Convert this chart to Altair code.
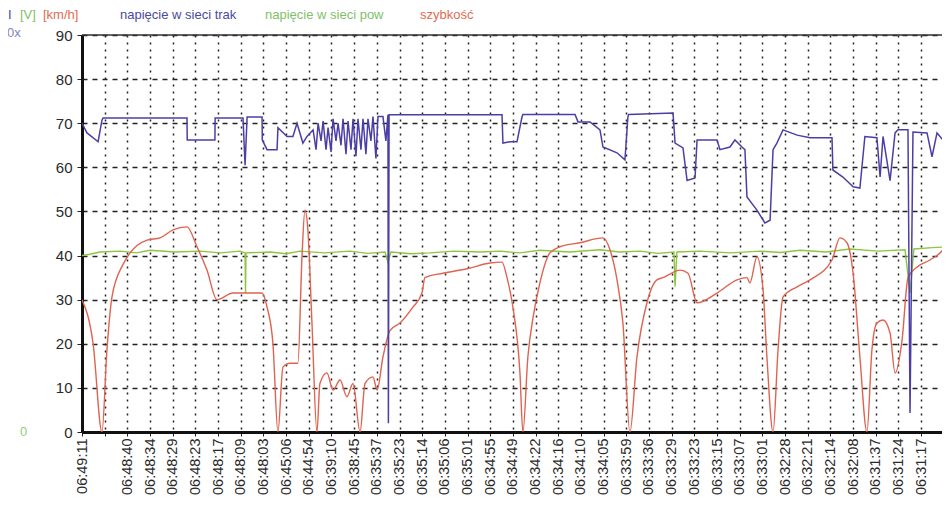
import altair as alt
import pandas as pd

# ---- data ----
time_labels = ["06:49:11", "", "06:48:40", "06:48:34", "06:48:29", "06:48:23", "06:48:17",
               "06:48:09", "06:48:03", "06:45:06", "06:44:54", "06:39:10", "06:38:45",
               "06:35:37", "06:35:23", "06:35:14", "06:35:06", "06:35:01", "06:34:55",
               "06:34:49", "06:34:22", "06:34:16", "06:34:10", "06:34:05", "06:33:59",
               "06:33:36", "06:33:29", "06:33:23", "06:33:15", "06:33:07", "06:33:01",
               "06:32:28", "06:32:21", "06:32:14", "06:32:08", "06:31:37", "06:31:24",
               "06:31:17", "06:31:11"]
y_ticks = [0, 10, 20, 30, 40, 50, 60, 70, 80, 90]

speed_x = [0.0, 0.49, 0.88, 1.10, 1.32, 1.81, 2.12, 2.87, 3.44, 4.01, 4.63, 5.07, 5.51, 5.95,
           6.66, 7.94, 8.16, 8.42, 8.64, 8.86, 9.17, 9.52, 9.70, 9.83, 9.96, 10.14, 10.36,
           10.49, 10.80, 11.07, 11.38, 11.68, 11.95, 12.26, 12.48, 12.83, 13.01, 13.27, 13.58,
           14.02, 14.59, 14.99, 15.12, 15.92, 16.98, 17.99, 18.52, 18.74, 19.00, 19.31, 19.44,
           19.66, 19.89, 20.19, 20.63, 21.08, 21.96, 22.97, 23.28, 23.59, 23.85, 24.16, 24.47,
           24.91, 25.35, 25.62, 26.37, 26.72, 27.12, 28.00, 28.88, 29.32, 29.45, 29.76, 30.03,
           30.20, 30.47, 30.69, 30.91, 31.53, 32.10, 33.07, 33.42, 33.73, 34.00, 34.30, 34.61,
           34.83, 35.05, 35.32, 35.63, 35.85, 36.16, 36.42, 36.82, 37.39, 37.96, 38.27]
speed_y = [30.0, 20.0, 0.0, 18.6, 30.6, 38.0, 40.6, 43.5, 44.0, 45.8, 46.5, 42.0, 36.7, 30.0,
           31.5, 31.5, 28.3, 20.0, 0.0, 14.7, 15.6, 15.6, 39.7, 50.3, 45.8, 24.7, 0.0,
           11.0, 13.4, 9.5, 11.8, 8.0, 11.0, 0.0, 11.0, 12.5, 9.5, 17.0, 23.0,
           24.7, 28.3, 31.5, 35.0, 36.0, 37.0, 38.3, 38.5, 35.0, 28.3, 13.4, 0.0,
           17.0, 26.0, 33.8, 40.6, 42.0, 42.9, 44.0, 41.3, 34.5, 24.7, 0.0, 17.0,
           29.3, 34.5, 35.0, 36.7, 36.0, 29.3, 31.5, 34.5, 35.0, 33.8, 39.7, 32.2,
           17.0, 0.0, 18.6, 30.6, 32.9, 34.5, 39.0, 44.0, 42.9, 36.0, 17.0, 0.0,
           18.6, 24.7, 25.4, 22.4, 13.4, 20.9, 35.0, 37.4, 39.0, 41.3, 44.0]

trak_x = [0.0, 0.22, 0.71, 0.88, 0.93, 4.63, 4.64, 5.86, 5.87, 7.10, 7.19, 7.28, 7.94, 7.95,
          8.16, 8.60, 8.64, 9.04, 9.30, 9.48, 9.74, 9.92, 10.19, 10.32, 10.41, 10.54, 10.63,
          10.76, 10.85, 10.98, 11.07, 11.20, 11.29, 11.42, 11.51, 11.64, 11.73, 11.86, 11.95,
          12.08, 12.17, 12.30, 12.39, 12.52, 12.61, 12.74, 12.83, 12.96, 13.05, 13.27, 13.40,
          13.49, 13.51, 13.54, 18.52, 18.56, 18.87, 19.18, 19.40, 19.44, 21.74, 21.87, 22.40,
          22.84, 22.97, 23.59, 23.94, 24.07, 24.10, 26.06, 26.15, 26.50, 26.68, 27.03, 27.12,
          28.00, 28.13, 28.57, 28.79, 29.10, 29.23, 29.32, 29.76, 30.11, 30.34, 30.47, 30.64,
          30.91, 31.53, 32.10, 33.07, 33.11, 33.55, 34.00, 34.30, 34.52, 35.05, 35.19, 35.32,
          35.63, 35.85, 35.98, 36.42, 36.51, 36.64, 37.26, 37.48, 37.70, 37.96, 38.27]
trak_y = [70.0, 67.8, 65.8, 70.7, 71.2, 71.2, 66.2, 66.2, 71.2, 71.2, 60.5, 71.4, 71.4, 66.2,
          64.0, 64.0, 69.0, 67.0, 67.0, 70.0, 65.5, 67.0, 68.5, 64.0, 70.0, 66.0, 70.5,
          64.0, 69.0, 63.5, 71.0, 66.0, 70.0, 65.0, 71.0, 63.0, 70.5, 64.0, 71.0,
          62.5, 71.0, 64.0, 71.0, 63.0, 71.0, 66.0, 71.5, 62.0, 71.5, 71.5, 66.0,
          71.9, 2.0, 71.9, 71.9, 65.5, 65.8, 65.8, 71.4, 72.0, 72.0, 70.3, 70.3,
          68.5, 64.6, 63.3, 61.7, 71.4, 72.0, 72.3, 65.5, 64.4, 57.0, 57.6, 66.2,
          66.2, 64.0, 64.6, 66.2, 64.6, 64.0, 53.3, 50.3, 47.4, 48.0, 64.0, 65.5,
          68.5, 67.3, 66.7, 66.7, 59.4, 57.8, 55.6, 55.3, 67.0, 66.7, 57.8, 67.0,
          57.0, 67.8, 68.5, 68.5, 4.3, 68.0, 67.8, 62.4, 67.8, 66.2, 67.8]

pow_x = [0.0, 0.35, 0.79, 1.68, 2.4, 3.0, 4.1, 5.2, 6.1, 6.97, 7.19, 7.21, 7.23, 8.29, 9.0,
         9.61, 10.7, 11.8, 12.6, 13.36, 13.49, 13.62, 14.5, 15.34, 16.4, 17.55, 18.43, 19.3,
         20.19, 21.5, 22.84, 23.7, 24.6, 25.4, 26.10, 26.15, 26.23, 27.25, 28.6, 29.89, 30.8,
         31.66, 32.8, 33.86, 35.1, 36.29, 36.51, 36.68, 37.5, 38.27]
pow_y = [40.0, 40.3, 40.8, 41.0, 40.6, 41.2, 40.8, 41.0, 40.6, 41.0, 40.6, 31.5, 40.6, 40.8, 40.4,
         41.0, 40.6, 41.0, 40.5, 40.8, 38.5, 40.8, 40.4, 40.6, 41.0, 40.8, 41.0, 40.6,
         41.2, 40.8, 41.3, 40.8, 41.0, 40.5, 40.8, 33.0, 40.8, 41.0, 40.6, 41.0, 40.7,
         41.2, 40.8, 41.5, 41.0, 41.3, 31.5, 41.5, 41.8, 42.0]

# ---- styling ----
FONT = "Liberation Sans"
BLUE = "#4b3fa6"
GREEN = "#8cc63f"
RED = "#e0624f"
X_MAX = 37.92

label_js = "[" + ",".join("'%s'" % t for t in time_labels) + "]"

x_enc = alt.X(
    "i:Q",
    scale=alt.Scale(domain=[0, X_MAX], nice=False, zero=False),
    axis=alt.Axis(
        values=list(range(0, 38)),
        labelExpr=label_js + "[datum.value]",
        labelAngle=270,
        labelFontSize=14.5,
        labelColor="#2a2a2a",
        labelFont=FONT,
        labelPadding=2,
        labelOverlap=False,
        labelBound=False,
        labelFlush=False,
        tickSize=4,
        tickColor="#222222",
        domainColor="#111111",
        domainWidth=3,
        grid=True,
        gridDash=[2, 5],
        gridColor="#222222",
        gridWidth=1.5,
        title=None,
    ),
)
y_enc = alt.Y(
    "v:Q",
    scale=alt.Scale(domain=[0, 90], nice=False),
    axis=alt.Axis(
        values=y_ticks,
        labelFontSize=15,
        labelColor="#2a2a2a",
        labelFont=FONT,
        labelPadding=5,
        tickSize=5,
        tickColor="#222222",
        domainColor="#111111",
        domainWidth=3,
        grid=True,
        gridDash=[5, 5],
        gridColor="#222222",
        gridWidth=1.3,
        title=None,
    ),
)


def series(xs, ys, color, width, interp="linear"):
    df = pd.DataFrame({"i": xs, "v": ys, "k": range(len(xs))})
    return alt.Chart(df).mark_line(
        color=color, strokeWidth=width, clip=True, interpolate=interp
    ).encode(x=x_enc, y=y_enc, order="k:Q")


def note(text, px, py, color, size=13):
    return alt.Chart(pd.DataFrame({"t": [text]})).mark_text(
        align="left", baseline="middle", font=FONT, fontSize=size, color=color
    ).encode(text="t:N", x=alt.value(px), y=alt.value(py))


top_line = alt.Chart(pd.DataFrame({"v": [90]})).mark_rule(
    color="#333333", strokeWidth=1.5
).encode(y=y_enc)

chart = alt.layer(
    series(pow_x, pow_y, GREEN, 1.4),
    series(speed_x, speed_y, RED, 1.4, "monotone"),
    series(trak_x, trak_y, BLUE, 1.5),
    top_line,
    note("I", -74, -20, "#4a4aa0"),
    note("[V]", -62, -20, "#7fbf6a"),
    note("[km/h]", -39, -20, "#e06c50"),
    note("napięcie w sieci trak", 38, -20, "#4a4aa0"),
    note("napięcie w sieci pow", 183, -20, "#7fbf6a"),
    note("szybkość", 338, -20, "#e06c50"),
    note("0x", -75, -2, "#7f86b5"),
    note("0", -62, 397, "#8fcf7a"),
).properties(
    width=860,
    height=397,
    autosize=alt.AutoSizeParams(type="none"),
    padding={"left": 74, "top": 27, "right": 0, "bottom": 70},
    background="white",
).configure_view(stroke=None)

chart.save("out.html", embed_options={"renderer": "svg", "actions": False})
